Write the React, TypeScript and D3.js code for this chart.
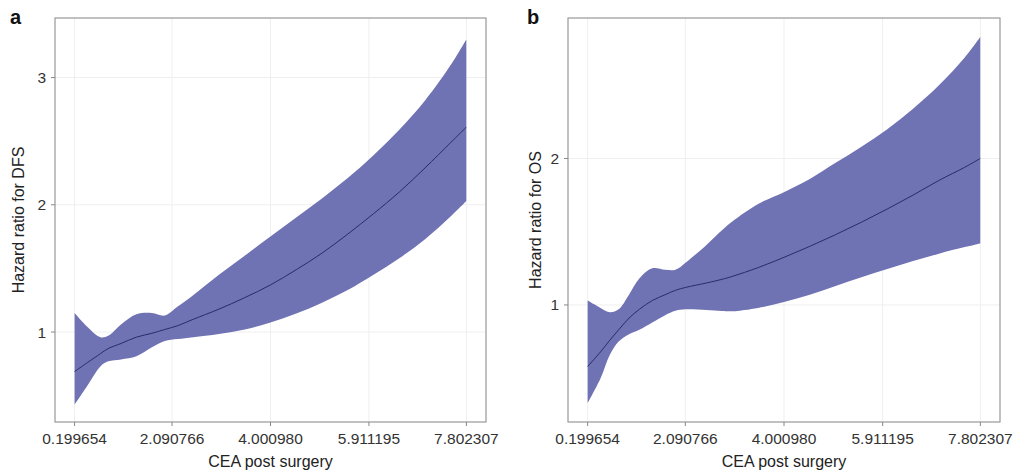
import React from "react";
import * as d3 from "d3";

// ---------- data ----------
const xTicks = [0.199654, 2.090766, 4.00098, 5.911195, 7.802307];

// Panel a: DFS
const cea_a = [0.2, 0.45, 0.7, 0.85, 1.1, 1.4, 1.7, 1.95, 2.2, 2.5, 3.0, 3.5, 4.0, 4.5, 5.0, 5.5, 6.0, 6.5, 7.0, 7.5, 7.8];
const hr_a = [0.69, 0.76, 0.83, 0.87, 0.91, 0.96, 0.99, 1.02, 1.05, 1.1, 1.18, 1.27, 1.37, 1.49, 1.62, 1.77, 1.93, 2.1, 2.29, 2.49, 2.61];
const hi_a = [1.15, 1.04, 0.96, 0.97, 1.06, 1.14, 1.15, 1.13, 1.2, 1.29, 1.45, 1.6, 1.75, 1.9, 2.05, 2.21, 2.39, 2.59, 2.82, 3.1, 3.3];
const lo_a = [0.43, 0.58, 0.73, 0.77, 0.785, 0.81, 0.88, 0.93, 0.945, 0.96, 0.985, 1.02, 1.075, 1.145, 1.23, 1.33, 1.45, 1.58, 1.73, 1.91, 2.03];
const yTicks_a = [1, 2, 3];

// Panel b: OS
const cea_b = [0.2, 0.45, 0.63, 0.8, 1.0, 1.2, 1.45, 1.7, 1.9, 2.1, 2.5, 2.8, 3.0, 3.5, 4.0, 4.5, 5.0, 5.5, 6.0, 6.5, 7.0, 7.5, 7.8];
const hr_b = [0.58, 0.68, 0.76, 0.83, 0.91, 0.97, 1.03, 1.07, 1.1, 1.12, 1.15, 1.175, 1.195, 1.255, 1.325, 1.4, 1.48, 1.565, 1.655, 1.75, 1.85, 1.94, 2.0];
const hi_b = [1.03, 0.98, 0.95, 0.97, 1.07, 1.18, 1.25, 1.24, 1.24, 1.29, 1.41, 1.51, 1.57, 1.69, 1.77, 1.86, 1.97, 2.08, 2.2, 2.34, 2.5, 2.69, 2.83];
const lo_b = [0.33, 0.5, 0.66, 0.75, 0.8, 0.83, 0.88, 0.93, 0.96, 0.97, 0.965, 0.958, 0.957, 0.98, 1.02, 1.07, 1.13, 1.19, 1.245, 1.3, 1.35, 1.395, 1.42];
const yTicks_b = [1, 2];

const FONT = "'Liberation Sans', Arial, Helvetica, sans-serif";
const FILL = "#6f72b3";
const LINE = "#2b2c66";

type PanelProps = {
  letter: string;
  left: number;
  right: number;
  top: number;
  bottom: number;
  yDomain: [number, number];
  xs: number[];
  hr: number[];
  lo: number[];
  hi: number[];
  yTicks: number[];
  yTitle: string;
  titleOffset: number;
  letterOffset: number;
};

function Panel(p: PanelProps) {
  const x0 = xTicks[0];
  const x1 = xTicks[xTicks.length - 1];
  const pad = (x1 - x0) * 0.05;
  const x = d3.scaleLinear().domain([x0 - pad, x1 + pad]).range([p.left, p.right]);
  const y = d3.scaleLinear().domain(p.yDomain).range([p.bottom, p.top]);
  const idx = p.xs.map((_, i) => i);
  const curve = d3.curveCatmullRom.alpha(0.5);
  const area = d3
    .area<number>()
    .x((i) => x(p.xs[i]))
    .y0((i) => y(p.lo[i]))
    .y1((i) => y(p.hi[i]))
    .curve(curve);
  const line = d3
    .line<number>()
    .x((i) => x(p.xs[i]))
    .y((i) => y(p.hr[i]))
    .curve(curve);
  const midY = (p.top + p.bottom) / 2;
  const midX = (p.left + p.right) / 2;
  return (
    <g fontFamily={FONT}>
      {xTicks.map((t) => (
        <line key={"gx" + t} x1={x(t)} x2={x(t)} y1={p.top} y2={p.bottom} stroke="#efefef" strokeWidth={1} />
      ))}
      {p.yTicks.map((t) => (
        <line key={"gy" + t} x1={p.left} x2={p.right} y1={y(t)} y2={y(t)} stroke="#efefef" strokeWidth={1} />
      ))}
      <path d={area(idx) || ""} fill={FILL} />
      <path d={line(idx) || ""} fill="none" stroke={LINE} strokeWidth={1} />
      <rect x={p.left} y={p.top} width={p.right - p.left} height={p.bottom - p.top} fill="none" stroke="#a0a0a0" strokeWidth={1.3} />
      {xTicks.map((t) => (
        <g key={"tx" + t}>
          <line x1={x(t)} x2={x(t)} y1={p.bottom} y2={p.bottom + 4} stroke="#888" strokeWidth={1} />
          <text x={x(t)} y={p.bottom + 22} textAnchor="middle" fontSize={15.5} fill="#333">
            {t.toFixed(6)}
          </text>
        </g>
      ))}
      {p.yTicks.map((t) => (
        <g key={"ty" + t}>
          <line x1={p.left - 4} x2={p.left} y1={y(t)} y2={y(t)} stroke="#888" strokeWidth={1} />
          <text x={p.left - 9} y={y(t) + 5.5} textAnchor="end" fontSize={15.5} fill="#333">
            {t}
          </text>
        </g>
      ))}
      <text x={midX} y={p.bottom + 45} textAnchor="middle" fontSize={16} fill="#222">
        CEA post surgery
      </text>
      <text
        transform={`translate(${p.left - p.titleOffset},${midY}) rotate(-90)`}
        textAnchor="middle"
        fontSize={16}
        fill="#222"
      >
        {p.yTitle}
      </text>
      <text x={p.left - p.letterOffset} y={p.top + 6} fontSize={20} fontWeight="bold" fill="#111">
        {p.letter}
      </text>
    </g>
  );
}

export default function App() {
  return (
    <svg
      width={1017}
      height={475}
      style={{ position: "absolute", left: 0, top: 0, background: "#fff" }}
    >
      <rect width={1017} height={475} fill="#fff" />
      <Panel
        letter="a"
        left={55}
        right={486}
        top={18}
        bottom={422}
        yDomain={[0.293, 3.468]}
        xs={cea_a}
        hr={hr_a}
        lo={lo_a}
        hi={hi_a}
        yTicks={yTicks_a}
        yTitle="Hazard ratio for DFS"
        titleOffset={31}
        letterOffset={45}
      />
      <Panel
        letter="b"
        left={568}
        right={1000}
        top={18}
        bottom={422}
        yDomain={[0.201, 2.959]}
        xs={cea_b}
        hr={hr_b}
        lo={lo_b}
        hi={hi_b}
        yTicks={yTicks_b}
        yTitle="Hazard ratio for OS"
        titleOffset={27}
        letterOffset={41}
      />
    </svg>
  );
}
